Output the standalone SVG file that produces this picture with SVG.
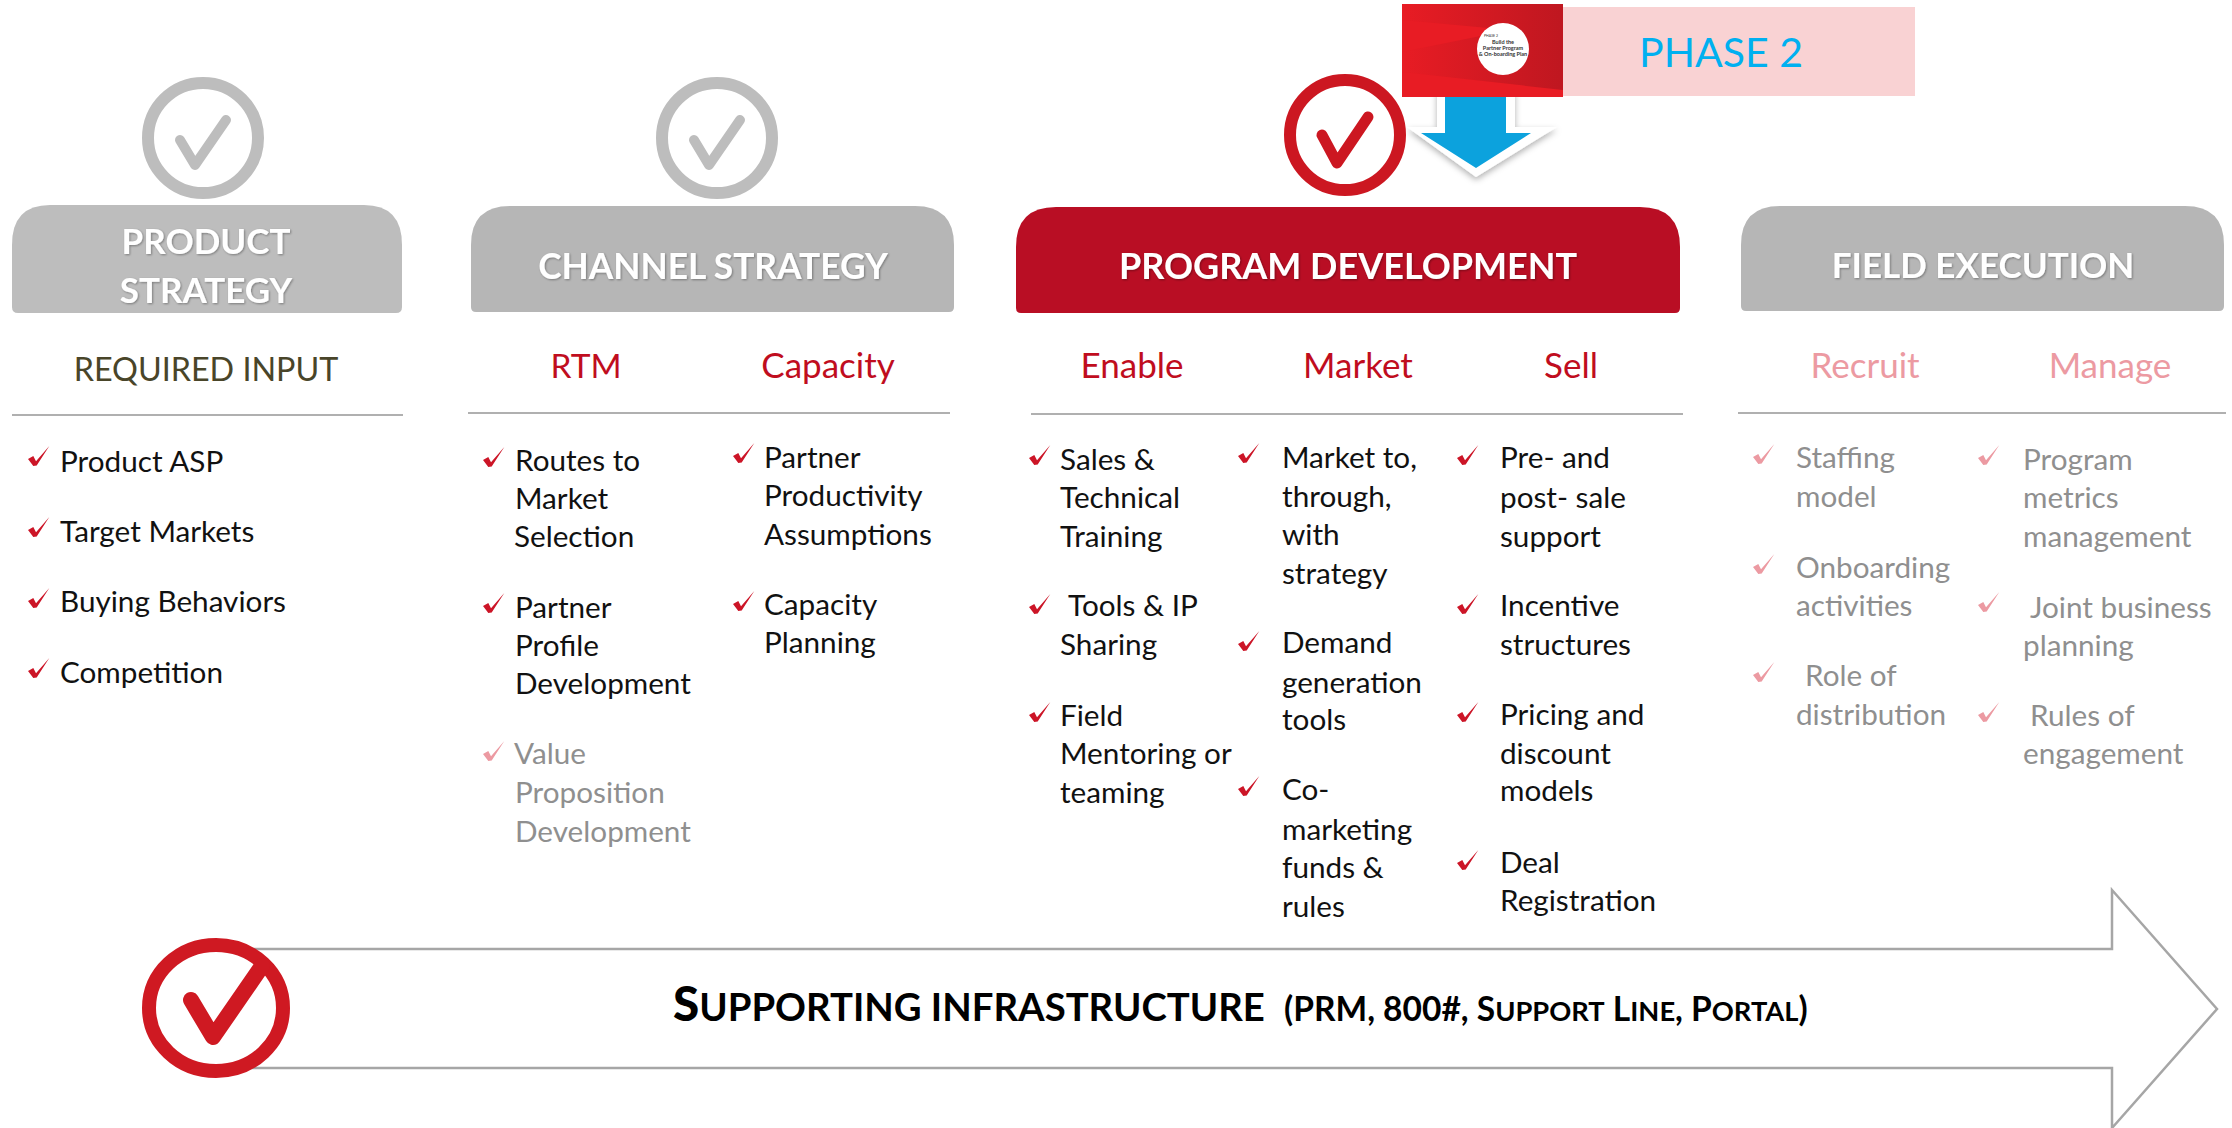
<svg xmlns="http://www.w3.org/2000/svg" width="2232" height="1128" viewBox="0 0 2232 1128">
<style>
text{font-family:"Lato","Liberation Sans",sans-serif}
.i{font-size:29.7px;fill:#111}
.g{font-size:29.7px;fill:#8f8f8f}
.h{font-size:35px;text-anchor:middle}
.r{fill:#c00d1e}.p{fill:#ec9aa2}
.t{font-size:35.5px;font-weight:700;fill:#fff;text-anchor:middle;filter:url(#ts)}
.rule{stroke:#b0b0b0;stroke-width:2}
.ck{fill:#cc1527}.ckp{fill:#ec9aa2}
.ring{fill:#fff;stroke:#bdbdbd;stroke-width:12}
.tick{fill:none;stroke:#bdbdbd;stroke-width:10;stroke-linecap:round;stroke-linejoin:round}
.hg{fill:#bdbdbd}.hd{fill:#b6b6b6}
</style>
<defs>
<path id="c" d="M1 13 L6.300 10 L9 15.300 L22.300 0 L9.700 19.500 L6.300 20 Z"/>
<filter id="ts" x="-10%" y="-30%" width="120%" height="160%"><feDropShadow dx="1" dy="1" stdDeviation="1" flood-color="#000" flood-opacity=".35"/></filter>
<filter id="as" x="-30%" y="-30%" width="160%" height="160%"><feDropShadow dx="0" dy="3" stdDeviation="3" flood-color="#000" flood-opacity=".3"/></filter>
<linearGradient id="rg" x1="0" y1="0" x2="1" y2="0"><stop offset="0" stop-color="#e81c24"/><stop offset="1" stop-color="#bf1720"/></linearGradient>
</defs>

<g id="connectors">
<path id="big-arrow" d="M200 949 H2112 V890 L2217 1009 L2112 1128 V1068 H200" fill="#fff" stroke="#a6a6a6" stroke-width="2.500"/>
<path id="blue-arrow-halo" d="M1437 90 H1515 V127 H1557 L1476 177 L1407 127 H1437 Z" fill="#fff" filter="url(#as)"/>
<path id="blue-arrow" d="M1445 90 H1506 V133 H1531 L1476 168 L1421 133 H1445 Z" fill="#0ca2dd"/>
<path class="rule" d="M12 415H403M468 413H950M1031 414H1683M1738 413H2226" fill="none"/>
</g>

<g id="phase2">
<rect x="1563" y="7" width="352" height="89" fill="#f9d2d3"/>
<rect x="1402" y="4" width="161" height="93" fill="url(#rg)"/>
<path d="M1402 52 L1510 30 L1402 20Z M1402 72 L1563 90 V97 H1402Z" fill="#e81c24"/>
<circle cx="1503" cy="49" r="26" fill="#fff"/>
<text x="1484" y="37" font-size="3.500" fill="#333">PHASE 2</text>
<text x="1503" y="44" font-size="5.500" font-weight="700" fill="#333" text-anchor="middle">Build the</text>
<text x="1503" y="50" font-size="5.500" font-weight="700" fill="#333" text-anchor="middle">Partner Program</text>
<text x="1503" y="56" font-size="5.500" font-weight="700" fill="#333" text-anchor="middle">&amp; On-boarding Plan</text>
<text x="1721" y="67" font-size="41" fill="#00b0f0" text-anchor="middle">PHASE 2</text>
</g>

<g id="product-strategy">
<circle class="ring" cx="203" cy="138" r="55"/>
<path class="tick" d="M180 140 L195 165 L226 120"/>
<path class="hg" d="M12 245 Q12 205 50 205 H364 Q402 205 402 245 V307 Q402 313 396 313 H18 Q12 313 12 307Z"/>
<text class="t" x="206" y="254" style="font-size:35px">PRODUCT</text>
<text class="t" x="206" y="303" style="font-size:35px">STRATEGY</text>
<text class="h" x="206" y="381" fill="#494529" style="font-size:32.300px">REQUIRED INPUT</text>
<use href="#c" x="27" y="446" class="ck"/><text class="i" x="60" y="472">Product ASP</text>
<use href="#c" x="27" y="517" class="ck"/><text class="i" x="60" y="542">Target Markets</text>
<use href="#c" x="27" y="588" class="ck"/><text class="i" x="60" y="612">Buying Behaviors</text>
<use href="#c" x="27" y="658" class="ck"/><text class="i" x="60" y="683">Competition</text>
</g>

<g id="channel-strategy">
<circle class="ring" cx="717" cy="138" r="55"/>
<path class="tick" d="M694 140 L709 165 L740 120"/>
<path class="hd" d="M471 245 Q471 206 510 206 H915 Q954 206 954 245 V307 Q954 312 949 312 H476 Q471 312 471 307Z"/>
<text class="t" x="713" y="279" style="font-size:35.300px">CHANNEL STRATEGY</text>
<text class="h r" x="586" y="378" style="font-size:33.500px">RTM</text>
<text class="h r" x="828" y="378">Capacity</text>
<use href="#c" x="482" y="447" class="ck"/><text class="i" x="515" y="471">Routes to</text>
<text class="i" x="515" y="509">Market</text><text class="i" x="514" y="547">Selection</text>
<use href="#c" x="482" y="593" class="ck"/><text class="i" x="515" y="618">Partner</text>
<text class="i" x="515" y="656">Profile</text><text class="i" x="515" y="694">Development</text>
<use href="#c" x="482" y="741" class="ckp"/><text class="g" x="514" y="764">Value</text>
<text class="g" x="515" y="803">Proposition</text><text class="g" x="515" y="842">Development</text>
<use href="#c" x="732" y="443" class="ck"/><text class="i" x="764" y="468">Partner</text>
<text class="i" x="764" y="506">Productivity</text><text class="i" x="764" y="545">Assumptions</text>
<use href="#c" x="732" y="591" class="ck"/><text class="i" x="764" y="615">Capacity</text>
<text class="i" x="764" y="653">Planning</text>
</g>

<g id="program-development">
<circle cx="1345" cy="135" r="55" fill="#fff" stroke="#cc1721" stroke-width="12"/>
<path d="M1322 135 L1337 163 L1368 117" fill="none" stroke="#cc1721" stroke-width="11" stroke-linecap="round" stroke-linejoin="round"/>
<path d="M1016 247 Q1016 207 1056 207 H1640 Q1680 207 1680 247 V308 Q1680 313 1675 313 H1021 Q1016 313 1016 308Z" fill="#b90e24"/>
<text class="t" x="1348" y="279" style="font-size:36px">PROGRAM DEVELOPMENT</text>
<text class="h r" x="1132" y="378">Enable</text>
<text class="h r" x="1358" y="378">Market</text>
<text class="h r" x="1571" y="378">Sell</text>
<use href="#c" x="1028" y="445" class="ck"/><text class="i" x="1060" y="470">Sales &amp;</text>
<text class="i" x="1060" y="508">Technical</text><text class="i" x="1060" y="547">Training</text>
<use href="#c" x="1028" y="594" class="ck"/><text class="i" x="1068" y="616">Tools &amp; IP</text>
<text class="i" x="1060" y="655">Sharing</text>
<use href="#c" x="1028" y="702" class="ck"/><text class="i" x="1060" y="726">Field</text>
<text class="i" x="1060" y="764">Mentoring or</text><text class="i" x="1060" y="803">teaming</text>
<use href="#c" x="1237" y="443" class="ck"/><text class="i" x="1282" y="468">Market to,</text>
<text class="i" x="1282" y="507">through,</text><text class="i" x="1282" y="545">with</text><text class="i" x="1282" y="584">strategy</text>
<use href="#c" x="1237" y="631" class="ck"/><text class="i" x="1282" y="653">Demand</text>
<text class="i" x="1282" y="693">generation</text><text class="i" x="1282" y="730">tools</text>
<use href="#c" x="1237" y="776" class="ck"/><text class="i" x="1282" y="800">Co-</text>
<text class="i" x="1282" y="840">marketing</text><text class="i" x="1282" y="878">funds &amp;</text><text class="i" x="1282" y="917">rules</text>
<use href="#c" x="1456" y="445" class="ck"/><text class="i" x="1500" y="468">Pre- and</text>
<text class="i" x="1500" y="508">post- sale</text><text class="i" x="1500" y="547">support</text>
<use href="#c" x="1456" y="594" class="ck"/><text class="i" x="1500" y="616">Incentive</text>
<text class="i" x="1500" y="655">structures</text>
<use href="#c" x="1456" y="702" class="ck"/><text class="i" x="1500" y="725">Pricing and</text>
<text class="i" x="1500" y="764">discount</text><text class="i" x="1500" y="801">models</text>
<use href="#c" x="1456" y="850" class="ck"/><text class="i" x="1500" y="873">Deal</text>
<text class="i" x="1500" y="911">Registration</text>
</g>

<g id="field-execution">
<path class="hd" d="M1741 245 Q1741 206 1780 206 H2185 Q2224 206 2224 245 V306 Q2224 311 2219 311 H1746 Q1741 311 1741 306Z"/>
<text class="t" x="1983" y="278" style="font-size:35px">FIELD EXECUTION</text>
<text class="h p" x="1865" y="378">Recruit</text>
<text class="h p" x="2110" y="378">Manage</text>
<use href="#c" x="1752" y="444" class="ckp"/><text class="g" x="1796" y="468">Staffing</text>
<text class="g" x="1796" y="507">model</text>
<use href="#c" x="1752" y="554" class="ckp"/><text class="g" x="1796" y="578">Onboarding</text>
<text class="g" x="1796" y="616">activities</text>
<use href="#c" x="1752" y="662" class="ckp"/><text class="g" x="1805" y="686">Role of</text>
<text class="g" x="1796" y="725">distribution</text>
<use href="#c" x="1977" y="445" class="ckp"/><text class="g" x="2023" y="470">Program</text>
<text class="g" x="2023" y="508">metrics</text><text class="g" x="2023" y="547">management</text>
<use href="#c" x="1977" y="592" class="ckp"/><text class="g" x="2030" y="618">Joint business</text>
<text class="g" x="2023" y="656">planning</text>
<use href="#c" x="1977" y="702" class="ckp"/><text class="g" x="2030" y="726">Rules of</text>
<text class="g" x="2023" y="764">engagement</text>
</g>

<g id="supporting-infrastructure">
<ellipse cx="216" cy="1008" rx="67" ry="63" fill="#fff" stroke="#cf1922" stroke-width="14"/>
<path d="M191 1000 L213 1037 L262 966" fill="none" stroke="#cf1922" stroke-width="16" stroke-linecap="round" stroke-linejoin="round"/>
<text x="673" y="1021" font-weight="900" fill="#000" font-size="47.600">S<tspan font-size="38.300" font-weight="700">UPPORTING INFRASTRUCTURE</tspan><tspan x="1284" font-size="33.500" font-weight="700">(PRM, 800#, S</tspan><tspan font-size="27.300" font-weight="700">UPPORT</tspan><tspan font-size="33.500" font-weight="700"> L</tspan><tspan font-size="27.300" font-weight="700">INE</tspan><tspan font-size="33.500" font-weight="700">, P</tspan><tspan font-size="27.300" font-weight="700">ORTAL</tspan><tspan font-size="33.500" font-weight="700">)</tspan></text>
</g>
</svg>
